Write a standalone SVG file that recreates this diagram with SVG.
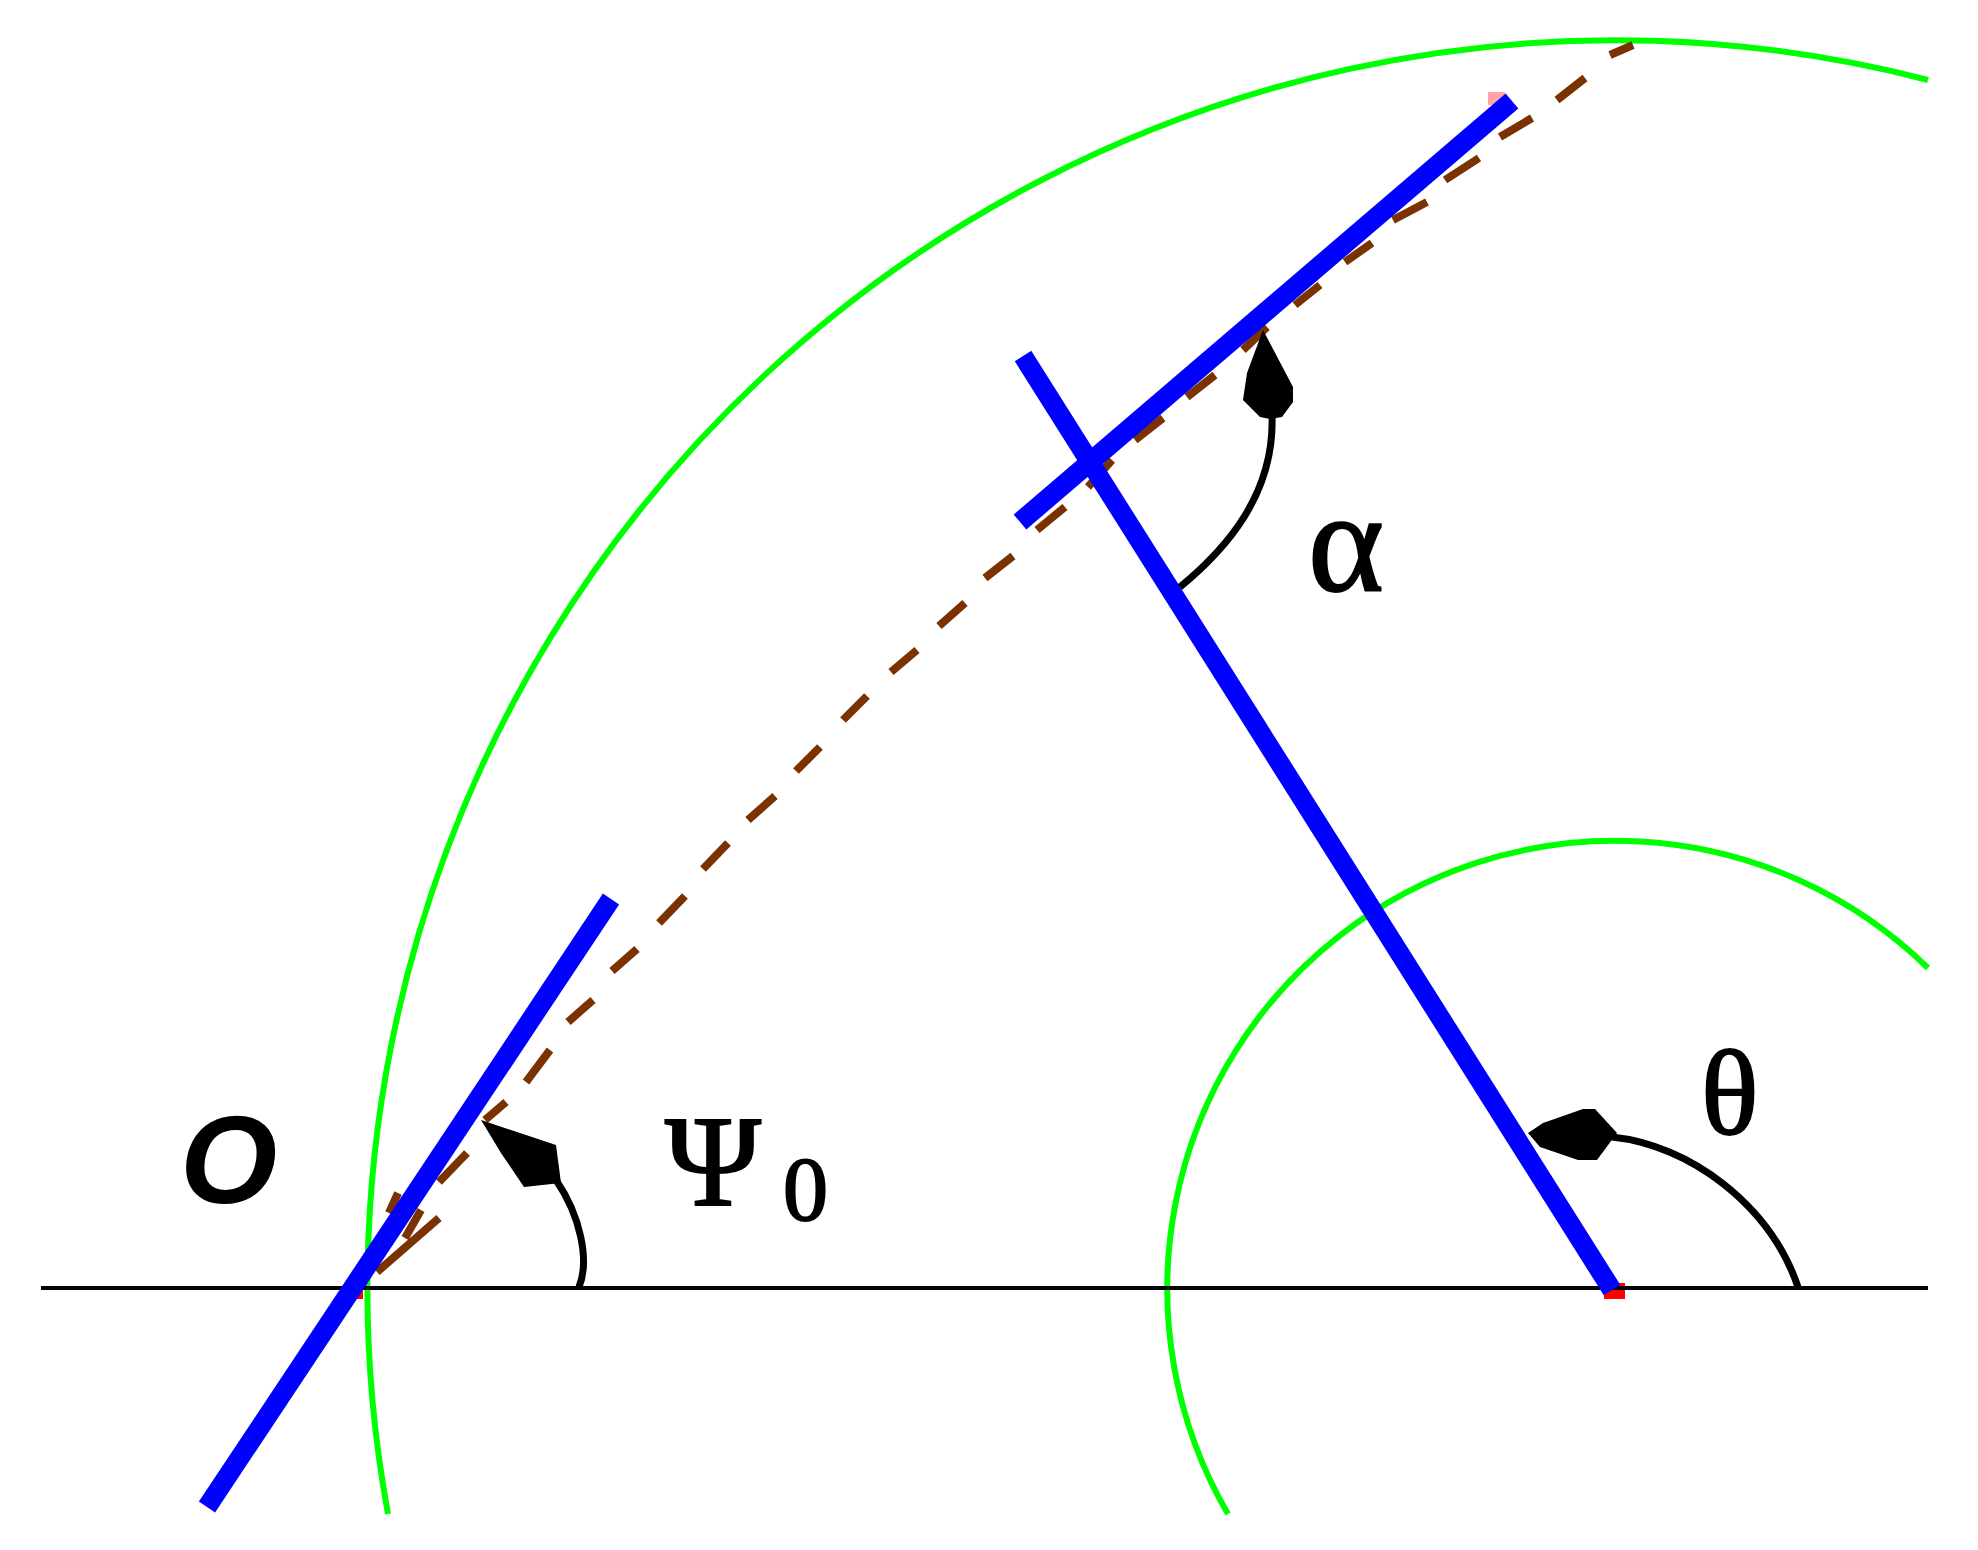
<svg xmlns="http://www.w3.org/2000/svg" width="1978" height="1550" viewBox="0 0 1978 1550">
<style>
.axis{stroke:#000;stroke-width:4;fill:none}
.circle{stroke:#00ff00;stroke-width:6;fill:none}
.dash{stroke:#7a3300;stroke-width:8;fill:none}
.rod{stroke:#0000ff;stroke-width:19.5;fill:none;stroke-linecap:butt}
.arc{stroke:#000;stroke-width:7;fill:none}
.head{fill:#000}
.lbl{font-family:"Liberation Serif","DejaVu Serif",serif;fill:#000}
.sans{font-family:"Liberation Sans","DejaVu Sans",sans-serif;fill:#000}
.heavy{stroke:#000;stroke-width:2}
</style>
<rect width="1978" height="1550" fill="#fff"/>
<g id="markers">
<rect x="353" y="1288" width="10" height="11" fill="#ff0000"/>
<rect x="1604" y="1283" width="21" height="16" fill="#ff0000"/>
<rect x="1488" y="92" width="17" height="13" fill="#ffa5a5"/>
</g>
<g id="connectors">
<path id="circle-large" class="circle" d="M388,1514 A1248,1248 0 0 1 1928,80"/>
<path id="circle-small" class="circle" d="M1228,1514 A448,448 0 0 1 1928,968"/>
<path id="axis" class="axis" d="M41,1288H1928"/>
<path id="dashes" class="dash" d="M377,1272L439,1218M389,1213L398,1193M405,1238L421,1210M439,1182L467,1153M485,1120L506,1102M526,1082L550,1050M568,1022L593,1000M612,971L637,949M659,923L685,896M703,869L728,843M748,820L775,796M796,771L820,747M843,720L867,696M891,672L917,650M939,626L965,603M985,578L1013,556M1037,530L1065,507M1088,487L1112,460M1135,440L1163,418M1187,397L1215,375M1243,350L1267,327M1295,305L1320,285M1345,262L1372,243M1393,220L1427,202M1445,180L1479,158M1500,137L1532,118M1557,100L1585,78M1610,55L1633,45"/>
<path id="rod-1" class="rod" d="M207,1507L611,899"/>
<path id="rod-2" class="rod" d="M1612,1290L1023,356"/>
<path id="rod-3" class="rod" d="M1020,522L1512,101"/>
<path id="arc-alpha" class="arc" d="M1180,587C1225,550 1275,495 1272,415"/>
<path id="arc-theta" class="arc" d="M1798,1287C1770,1205 1690,1145 1612,1137"/>
<path id="arc-psi" class="arc" d="M579,1287C590,1260 580,1215 556,1180"/>
<polygon id="head-alpha" class="head" points="1263,330 1293,387 1293,402 1282,417 1270,419 1260,417 1243,400 1247,373"/>
<polygon id="head-theta" class="head" points="1528,1133 1543,1123 1583,1109 1595,1109 1617,1133 1597,1160 1578,1160 1540,1147"/>
<polygon id="head-psi" class="head" points="481,1120 556,1145 561,1183 524,1187 501,1153"/>
</g>
<g id="label-o"><text class="sans" x="180" y="1203" font-size="125" font-weight="700" font-style="italic">O</text></g>
<g id="label-psi"><text class="lbl heavy" x="665" y="1205" font-size="130">Ψ</text></g>
<g id="label-psi-sub"><text class="lbl heavy" x="783" y="1220" font-size="90">0</text></g>
<g id="label-alpha"><text class="lbl heavy" x="1308" y="591" font-size="145">α</text></g>
<g id="label-theta"><text class="lbl heavy" x="1701" y="1134" font-size="120">θ</text></g>
</svg>
